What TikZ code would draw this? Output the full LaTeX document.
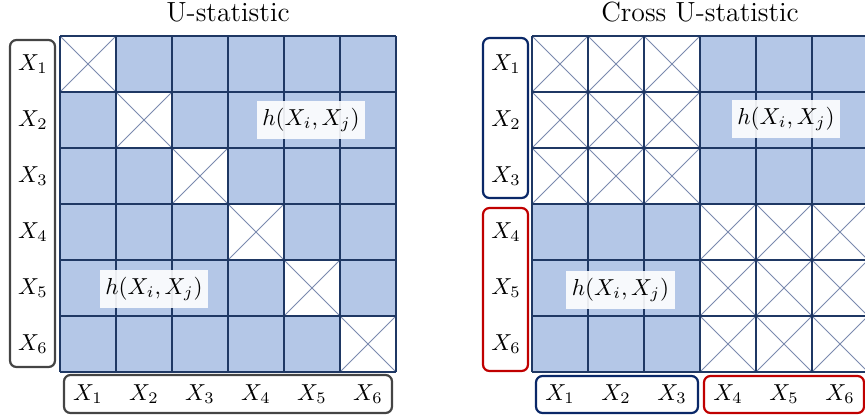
\documentclass[tikz,border=0pt]{standalone}
\definecolor{cellfill}{HTML}{B4C7E7}
\definecolor{gridc}{HTML}{1F3864}
\definecolor{crossc}{HTML}{7A8AAE}
\definecolor{navyb}{HTML}{0A2868}
\definecolor{redb}{HTML}{C00000}
\definecolor{grayb}{HTML}{444444}
\begin{document}
\begin{tikzpicture}[x=0.4327pt,y=-0.4327pt,
  gridline/.style={draw=gridc,line width=0.6pt},
  crossline/.style={draw=crossc,line width=0.35pt},
  labbox/.style={rounded corners=2.8pt,line width=0.95pt},
  hlab/.style={fill=white,fill opacity=0.9,text opacity=1,inner xsep=2.5pt,inner ysep=3pt},
  ttl/.style={anchor=base,font=\large},
  axlab/.style={inner sep=0pt}]
\useasboundingbox (0,0) rectangle (865,415);
\clip (0,0) rectangle (865,415);

% ---------- left grid ----------
\fill[cellfill] (60,36) rectangle (396,372);
\foreach \i in {0,...,5}{
  \fill[white] ({60+56*\i},{36+56*\i}) rectangle ++(56,56);
  \draw[crossline] ({60+56*\i},{36+56*\i}) -- ++(56,56);
  \draw[crossline] ({116+56*\i},{36+56*\i}) -- ++(-56,56);
}
\foreach \i in {0,...,6}{
  \draw[gridline] ({60+56*\i},36) -- ({60+56*\i},372);
  \draw[gridline] (60,{36+56*\i}) -- (396,{36+56*\i});
}
\node[ttl] (t1) at (228,21.5) {U-statistic};
\node[hlab] (h1) at (311,120) {$h(X_i,X_j)$};
\node[hlab] (h2) at (154,289) {$h(X_i,X_j)$};

\draw[labbox,draw=grayb] (10,40) rectangle (55,367);
\draw[labbox,draw=grayb] (64,375) rectangle (392,413);
\foreach \i in {1,...,6}{
  \node[axlab] (lr\i) at (33,{8+56*\i}) {$X_{\i}$};
  \node[axlab] (lc\i) at ({32+56*\i},394) {$X_{\i}$};
}

% ---------- right grid ----------
\fill[cellfill] (532,36) rectangle (868,372);
\fill[white] (532,36) rectangle (700,204);
\fill[white] (700,204) rectangle (868,372);
\foreach \a/\b in {0/0,168/168}{
  \foreach \i in {0,1,2}{
    \foreach \j in {0,1,2}{
      \draw[crossline] ({532+\a+56*\i},{36+\b+56*\j}) -- ++(56,56);
      \draw[crossline] ({588+\a+56*\i},{36+\b+56*\j}) -- ++(-56,56);
    }
  }
}
\foreach \i in {0,...,6}{
  \draw[gridline] ({532+56*\i},36) -- ({532+56*\i},372);
  \draw[gridline] (532,{36+56*\i}) -- (868,{36+56*\i});
}
\node[ttl] (t2) at (700,21.5) {Cross U-statistic};
\node[hlab] (h3) at (786,119) {$h(X_i,X_j)$};
\node[hlab] (h4) at (620.5,290) {$h(X_i,X_j)$};

\draw[labbox,draw=navyb] (483,38) rectangle (528,198);
\draw[labbox,draw=redb] (483,208) rectangle (528,371);
\draw[labbox,draw=navyb] (536,376) rectangle (698,413);
\draw[labbox,draw=redb] (704,376) rectangle (864,413);
\foreach \i in {1,...,6}{
  \node[axlab] (rr\i) at (506,{8+56*\i}) {$X_{\i}$};
  \node[axlab] (rc\i) at ({504+56*\i},394) {$X_{\i}$};
}
\end{tikzpicture}
\end{document}
